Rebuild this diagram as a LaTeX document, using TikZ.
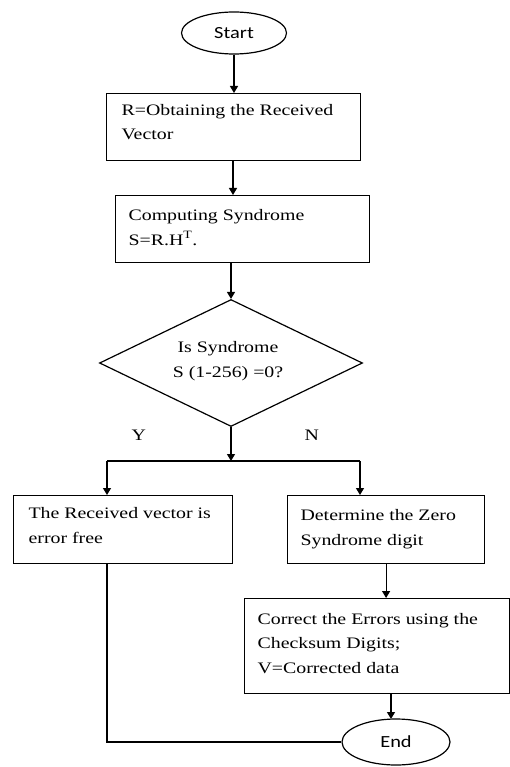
\documentclass[tikz,border=0pt]{standalone}
\usepackage{fontspec}
\setmainfont{Liberation Serif}
\newfontfamily\boxfont[FakeStretch=1.24]{Liberation Serif}
\newfontfamily\ovalfont[FakeStretch=1.2]{Carlito}
\usetikzlibrary{arrows.meta,shapes.geometric}
\begin{document}
\begin{tikzpicture}[x=1pt,y=-1pt,
  line width=1.2pt,
  box/.style={draw, rectangle, inner sep=0pt, anchor=north west},
  oval/.style={draw, ellipse, inner sep=0pt, font=\ovalfont\fontsize{17}{20}\selectfont},
  txt/.style={inner sep=0pt, anchor=base west, align=left, font=\boxfont\fontsize{16}{24.5}\selectfont},
  arr/.style={-{Triangle[length=7pt,width=8pt]}}
]
\useasboundingbox (0,0) rectangle (510,767);

% shapes
\node[oval, minimum width=105pt, minimum height=42pt] (start) at (234,33) {Start};
\node[box, minimum width=254pt, minimum height=67pt] (b1) at (106,93) {};
\node[box, minimum width=254pt, minimum height=67pt] (b2) at (115,195) {};
\node[draw, diamond, inner sep=0pt, minimum width=263pt, minimum height=127pt] (dia) at (231,363) {};
\node[box, minimum width=219pt, minimum height=68pt] (lb) at (13,495) {};
\node[box, minimum width=197pt, minimum height=68pt] (rb) at (287,495) {};
\node[box, minimum width=265pt, minimum height=95pt] (b4) at (244,598) {};
\node[oval, minimum width=108pt, minimum height=46pt] (endn) at (396,742) {End};

% texts (base anchor = baseline of the last line)
\node[txt] (t1) at (121,140) {R=Obtaining the Received\\Vector};
\node[txt] (t2) at (128,245) {Computing Syndrome\\S=R.H\textsuperscript{T}.};
\node[txt, anchor=base, align=center] (t3) at (228,377) {Is Syndrome\\S (1-256) =0?};
\node[txt] (t4) at (28,543) {The Received vector is\\error free};
\node[txt] (t5) at (300,545) {Determine the Zero\\Syndrome digit};
\node[txt] (t6) at (257,673) {Correct the Errors using the\\Checksum Digits;\\V=Corrected data};
\node[txt] (ly) at (131,440) {Y};
\node[txt] (ln) at (304,440) {N};

% connectors
\coordinate (j) at (231,461);
\coordinate (jl) at (107,461);
\coordinate (jr) at (360,461);
\draw[arr] (start.south) -- (start.south |- b1.north);
\draw[arr] (b1.south -| 233,0) -- (b2.north -| 233,0);
\draw[arr] (b2.south -| dia.north) -- (dia.north);
\draw[arr] (dia.south) -- (j);
\draw (jl) -- (jr);
\draw[arr] (jl) -- (jl |- lb.north);
\draw[arr] (jr) -- (jr |- rb.north);
\draw[arr] (rb.south) -- (rb.south |- b4.north);
\draw[arr] (b4.south -| 391,0) -- (391,719);
\draw (jl |- lb.south) -- (jl |- endn.west) -- (endn.west);
\end{tikzpicture}
\end{document}
